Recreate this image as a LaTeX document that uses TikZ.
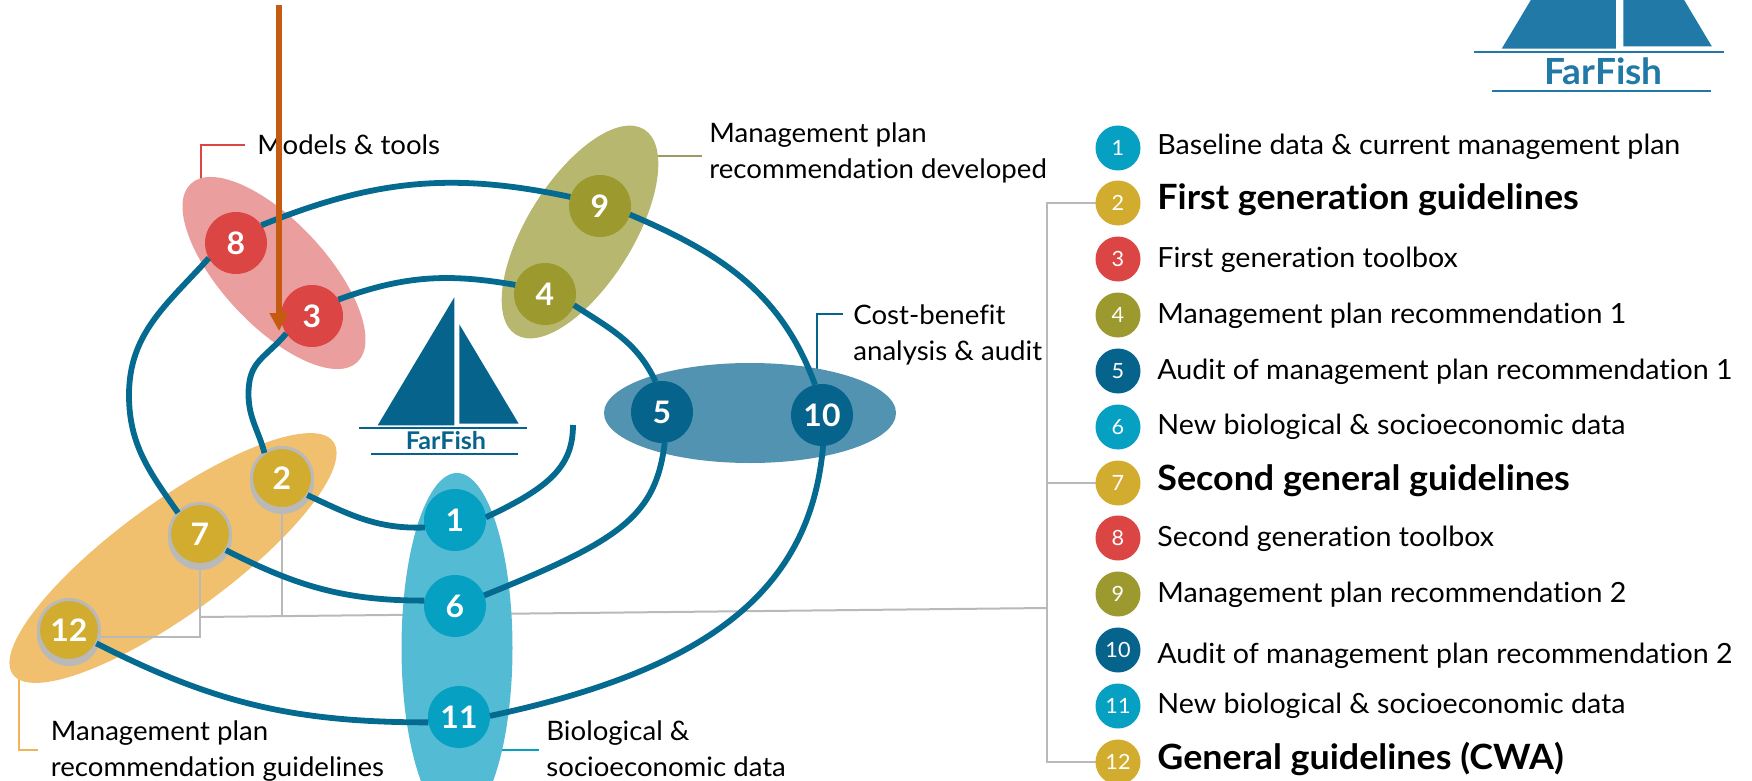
\documentclass[tikz,border=0pt]{standalone}
\usepackage{fontspec}
\setmainfont[FakeStretch=1.03,Ligatures=NoCommon]{Lato}
\usetikzlibrary{arrows.meta,shapes.geometric,positioning}
\definecolor{spiralblue}{HTML}{056A90}
\definecolor{cyandot}{HTML}{06A0C3}
\definecolor{cyanblob}{HTML}{53BBD4}
\definecolor{golddot}{HTML}{D2AC2F}
\definecolor{goldblob}{HTML}{F0C06F}
\definecolor{reddot}{HTML}{DB4543}
\definecolor{redblob}{HTML}{EA9E9E}
\definecolor{olivedot}{HTML}{9C9A2E}
\definecolor{oliveblob}{HTML}{B7B76F}
\definecolor{bluedot}{HTML}{06648C}
\definecolor{blueblob}{HTML}{5193B1}
\definecolor{greyline}{HTML}{B9B9B9}
\definecolor{logotop}{HTML}{2079A7}
\definecolor{arrowbrown}{HTML}{C55A11}
\pgfdeclarelayer{back}
\pgfsetlayers{back,main}
\tikzset{
    %Define style for the numbered dots of the spiral
    numdot/.style={
           circle,
           inner sep=0pt,
           outer sep=0pt,
           minimum size=31pt,
           text=white,
           font=\fontsize{15.5}{15.5}\selectfont\bfseries},
    golddisc/.style={
           numdot,
           fill=golddot,
           draw=greyline,
           line width=1.5pt,
           minimum size=30.5pt,
           preaction={draw=greyline,fill=greyline,transform canvas={yshift=-2pt}}},
    %Define style for the dots of the list
    legdot/.style={
           circle,
           inner sep=0pt,
           outer sep=0pt,
           minimum size=22.5pt,
           text=white,
           font=\fontsize{10.5}{10.5}\selectfont},
    legtxt/.style={
           anchor=base west,
           inner sep=0pt,
           font=\fontsize{13.9}{13.9}\selectfont},
    legbold/.style={
           anchor=base west,
           inner sep=0pt,
           font=\fontsize{17.4}{17.4}\selectfont\bfseries},
    blob/.style={
           ellipse,
           inner sep=0pt,
           outer sep=0pt},
    calltxt/.style={
           anchor=base west,
           inner sep=0pt,
           align=left,
           font=\fontsize{13.4}{17.7}\selectfont},
    % Define line styles
    spiral/.style={
           draw=spiralblue,
           line width=2.9pt},
    greylink/.style={
           draw=greyline,
           line width=1pt},
    callout/.style={
           line width=.9pt}
}
\newcommand{\sailboat}[5]{
    \begin{scope}[shift={#1},scale=#2]
      \fill[#3] (11.3,-130.4) -- (11.3,-2.4) -- (-65.3,-2.4) -- cycle;
      \fill[#3] (16.3,-103.4) -- (16.3,-4) -- (75.7,-4) -- cycle;
      \draw[#3,line width=1.2pt] (-84,0) -- (83.7,0);
      \draw[#3,line width=1.2pt] (-72,26) -- (75,26);
      \node[text=#3,inner sep=0pt,font=\fontsize{#4}{#4}\selectfont\bfseries] (#5) at (3,13) {FarFish};
    \end{scope}
}

\begin{document}
\begin{tikzpicture}[x=.5pt,y=-.5pt]
     \useasboundingbox (0,0) rectangle (1752,781);

     % spiral dots
     \node[numdot,fill=cyandot] (n1) at (455,520) {1};
     \node[golddisc] (n2) at (282,478) {2};
     \node[numdot,fill=reddot] (n3) at (312,316) {3};
     \node[numdot,fill=olivedot] (n4) at (545,294) {4};
     \node[numdot,fill=bluedot] (n5) at (662,412) {5};
     \node[numdot,fill=cyandot] (n6) at (455,606) {6};
     \node[golddisc] (n7) at (200,534) {7};
     \node[numdot,fill=reddot] (n8) at (236,243) {8};
     \node[numdot,fill=olivedot] (n9) at (600,206) {9};
     \node[numdot,fill=bluedot] (n10) at (822,415) {10};
     \node[numdot,fill=cyandot] (n11) at (459,717) {11};
     \node[golddisc] (n12) at (69,630) {12};

     % spiral
     \coordinate (spiralstart) at (573,425);
     \coordinate (turninner) at (248.5,394);
     \coordinate (turnouter) at (129,395);
     \draw[spiral] (spiralstart) to[out=-90,in=25,out looseness=.82,in looseness=1.43] (n1.5);
     \draw[spiral] (n1.194) to[out=182,in=-25] (n2.-34);
     \draw[spiral] (n2.125) to[out=105,in=-90] (turninner) to[out=90,in=230,looseness=1.2] (n3.214);
     \draw[spiral] (n3.32) to[out=20,in=170] (n4.163);
     \draw[spiral] (n4.-21) to[out=-33,in=115] (n5.102);
     \draw[spiral] (n5.-85) to[out=-97,in=22,out looseness=.8,in looseness=1.6] (n6.20);
     \draw[spiral] (n6.170) to[out=180,in=-27] (n7.-32);
     \draw[spiral] (n7.136) to[out=125,in=-90] (turnouter) to[out=90,in=228] (n8.209);
     \draw[spiral] (n8.35) to[out=22,in=168] (n9.163);
     \draw[spiral] (n9.-16) to[out=-23,in=110] (n10.103);
     \draw[spiral] (n10.-88) to[out=-95,in=12,out looseness=.86,in looseness=1.34] (n11.2);
     \draw[spiral] (n11.190) to[out=180,in=-27] (n12.-26);

     % list
     \node[legdot,fill=cyandot] (leg1) at (1118,148) {1};
     \node[legdot,fill=golddot] (leg2) at (1118,203) {2};
     \node[legdot,fill=reddot] (leg3) at (1118,259) {3};
     \node[legdot,fill=olivedot] (leg4) at (1118,315) {4};
     \node[legdot,fill=bluedot] (leg5) at (1118,371) {5};
     \node[legdot,fill=cyandot] (leg6) at (1118,427) {6};
     \node[legdot,fill=golddot] (leg7) at (1118,483) {7};
     \node[legdot,fill=reddot] (leg8) at (1118,538) {8};
     \node[legdot,fill=olivedot] (leg9) at (1118,594) {9};
     \node[legdot,fill=bluedot] (leg10) at (1118,650) {10};
     \node[legdot,fill=cyandot] (leg11) at (1118,706) {11};
     \node[legdot,fill=golddot] (leg12) at (1118,762) {12};
     \node[legtxt] (txt1) at (1157,155) {Baseline data \& current management plan};
     \node[legbold] (txt2) at (1157,210) {First generation guidelines};
     \node[legtxt] (txt3) at (1157,267) {First generation toolbox};
     \node[legtxt] (txt4) at (1157,323) {Management plan recommendation 1};
     \node[legtxt] (txt5) at (1157,379) {Audit of management plan recommendation 1};
     \node[legtxt] (txt6) at (1157,434) {New biological \& socioeconomic data};
     \node[legbold] (txt7) at (1157,490) {Second general guidelines};
     \node[legtxt] (txt8) at (1157,546) {Second generation toolbox};
     \node[legtxt] (txt9) at (1157,602) {Management plan recommendation 2};
     \node[legtxt] (txt10) at (1157,663) {Audit of management plan recommendation 2};
     \node[legtxt] (txt11) at (1157,713) {New biological \& socioeconomic data};
     \node[legbold] (txt12) at (1157,769) {General guidelines (CWA)};

     % callouts
     \node[calltxt] (models) at (257,155) {Models \& tools};
     \node[calltxt] (planrec) at (709,178) {Management plan\\recommendation developed};
     \node[calltxt] (costben) at (853,360) {Cost-benefit\\analysis \& audit};
     \node[calltxt] (planguide) at (50.5,776) {Management plan\\recommendation guidelines};
     \node[calltxt] (biosocio) at (546,776) {Biological \&\\socioeconomic data};

     \sailboat{(443,427.7)}{1}{bluedot}{12.2}{logomid}
     \sailboat{(1599,52.3)}{1.49}{logotop}{18}{logotr}

     \begin{pgfonlayer}{back}
       \coordinate (tipred) at (201,190);
       \coordinate (tipolive) at (650,156);
       \coordinate (endolive) at (702,156);
       \coordinate (tipblue) at (817,375);
       \coordinate (endblue) at (843,314);
       \coordinate (tipgold) at (19,670);
       \coordinate (endgold) at (38,750);
       \coordinate (tipcyan) at (480,750);
       \coordinate (endcyan) at (539,750);
       \draw[callout,reddot] (tipred) |- ([xshift=-6pt]models.west);
       \draw[callout,oliveblob!85!black] (tipolive) -- (endolive);
       \draw[callout,bluedot] (tipblue) |- (endblue);
       \draw[callout,goldblob!80!orange] (tipgold) |- (endgold);
       \draw[callout,cyandot] (tipcyan) -- (endcyan);

       \node[blob,fill=goldblob,minimum width=198pt,minimum height=56pt,rotate=36] (blobgold) at (173,558) {};
       \coordinate (joina) at (200,617);
       \coordinate (joinb) at (1047,608);
       \draw[greylink] (n7.south) |- (n12.-13);
       \draw[greylink] (n2.south) -- (n2.south |- joina);
       \draw[greylink] (joina) -- (joinb);
       \foreach \k in {2,7,12}
         \draw[greylink] (leg\k.west) -| (joinb);

       \node[blob,fill=redblob,minimum width=122pt,minimum height=52pt,rotate=-47] (blobred) at (274,273) {};
       \node[blob,fill=oliveblob,minimum width=121pt,minimum height=53pt,rotate=58] (bloboliv) at (580,232) {};
       \node[blob,fill=blueblob,minimum width=146pt,minimum height=50pt] (blobblue) at (750,413) {};
       \node[blob,fill=cyanblob,minimum width=55.5pt,minimum height=175pt] (blobcyan) at (457,648) {};
     \end{pgfonlayer}

     % long arrow over everything
     \coordinate (arrowtop) at (279,5);
     \coordinate (arrowend) at (279,331);
     \draw[arrowbrown,line width=3pt,-{Triangle[length=9pt,width=9pt]}] (arrowtop) -- (arrowend);
\end{tikzpicture}
\end{document}
